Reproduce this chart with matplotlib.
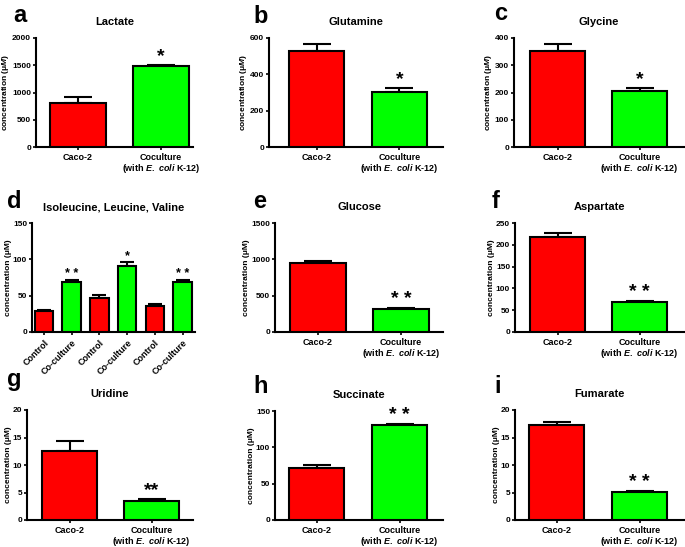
import matplotlib
matplotlib.use("Agg")
import matplotlib.pyplot as plt

plt.rcParams["font.family"] = ["Liberation Sans", "DejaVu Sans"]
plt.rcParams["font.weight"] = "bold"
plt.rcParams["axes.labelweight"] = "bold"
plt.rcParams["mathtext.fontset"] = "custom"
plt.rcParams["mathtext.rm"] = "Liberation Sans:bold"
plt.rcParams["mathtext.bf"] = "Liberation Sans:bold"
plt.rcParams["mathtext.it"] = "Liberation Sans:bold:italic"

RED = "#ff0000"
GREEN = "#00ff00"

# data (mean, upper error)
pair_labels = ["Caco-2", "Coculture\n(with $\\mathit{E.\\ coli}$ K-12)"]
bcaa_labels = ["Control", "Co-culture", "Control", "Co-culture", "Control", "Co-culture"]

lactate = [807, 1480]
lactate_err = [110, 25]
glutamine = [526, 305]
glutamine_err = [41, 18]
glycine = [352, 205]
glycine_err = [25, 12]
bcaa = [28.3, 69.3, 46.5, 90.7, 36.0, 68.4]
bcaa_err = [2.2, 2.7, 4.5, 5.0, 2.3, 3.2]
glucose = [951, 315]
glucose_err = [27, 19]
aspartate = [219, 68]
aspartate_err = [8, 2]
uridine = [12.5, 3.45]
uridine_err = [1.9, 0.31]
succinate = [72, 130.7]
succinate_err = [3.7, 1.0]
fumarate = [17.3, 5.15]
fumarate_err = [0.5, 0.05]

pair_stars_1 = ["", "*"]
pair_stars_2 = ["", "* *"]
pair_stars_3 = ["", "**"]
bcaa_stars = ["", "* *", "", "*", "", "* *"]

ylabel_it = "concentration (\u03bc$\\mathit{M}$)"
ylabel_rm = "concentration (\u03bcM)"

# letter, title, values, errors, stars, ymax, ystep, ylabel
panels = [
    ("a", "Lactate", lactate, lactate_err, pair_stars_1, 2000, 500, ylabel_it),
    ("b", "Glutamine", glutamine, glutamine_err, pair_stars_1, 600, 200, ylabel_it),
    ("c", "Glycine", glycine, glycine_err, pair_stars_1, 400, 100, ylabel_it),
    ("d", "Isoleucine, Leucine, Valine", bcaa, bcaa_err, bcaa_stars, 150, 50, ylabel_rm),
    ("e", "Glucose", glucose, glucose_err, pair_stars_2, 1500, 500, ylabel_rm),
    ("f", "Aspartate", aspartate, aspartate_err, pair_stars_2, 250, 50, ylabel_rm),
    ("g", "Uridine", uridine, uridine_err, pair_stars_3, 20, 5, ylabel_rm),
    ("h", "Succinate", succinate, succinate_err, pair_stars_2, 150, 50, ylabel_rm),
    ("i", "Fumarate", fumarate, fumarate_err, pair_stars_2, 20, 5, ylabel_rm),
]

# pixel layout: axis left, right, top, bottom, first bar centre, px per bar
layout = [
    (36, 193, 38, 147, 78, 83),
    (269, 443, 38, 147, 316.5, 83),
    (514, 684, 38, 147, 557.5, 82),
    (32, 195, 223, 332, 44, 27.7),
    (275, 443, 223, 332, 318, 83),
    (515, 684, 223, 332, 557.5, 82),
    (27, 193, 410, 520, 69.5, 82),
    (275, 443, 411, 520, 316.5, 83),
    (515, 684, 410, 520, 556.5, 83),
]
letter_pos = [(13, 22), (253, 23), (494, 20), (7, 208), (253, 208), (492, 208), (7, 386), (253, 393), (494, 393)]

W, H = 685, 547
fig = plt.figure(figsize=(W / 100, H / 100), dpi=100)

for (letter, title, vals, errs, stars, ymax, ystep, ylab), (l, r, t, b, c0, unit), (lx, ly) in zip(panels, layout, letter_pos):
    ax = fig.add_axes([l / W, 1 - b / H, (r - l) / W, (b - t) / H])
    n = len(vals)
    x = list(range(n))
    colors = [RED, GREEN] * (n // 2)
    small = n > 2
    ax.bar(x, vals, width=0.67, color=colors, edgecolor="black", linewidth=1.5, zorder=3)
    ax.errorbar(x, vals, yerr=[[0] * n, errs], fmt="none", ecolor="black",
                elinewidth=1.5, capsize=5 if small else 10, capthick=1.5, zorder=2)
    for xi, v, e, s in zip(x, vals, errs, stars):
        if s:
            ax.annotate(s, xy=(xi, v + e), xytext=(0, 0), textcoords="offset points",
                        ha="center", va="bottom", fontsize=9 if small else 14)
    ax.set_xlim((l - c0) / unit, (r - c0) / unit)
    ax.set_ylim(0, ymax)
    ax.set_yticks(range(0, ymax + 1, ystep))
    ax.set_xticks(x)
    if small:
        ax.set_xticklabels(bcaa_labels, rotation=45, ha="right", rotation_mode="anchor")
    else:
        ax.set_xticklabels(pair_labels, linespacing=1.0)
    ax.tick_params(axis="x", labelsize=6.5, width=1.2, length=2.5, pad=2)
    ax.tick_params(axis="y", labelsize=6, width=1.2, length=2.5, pad=1)
    ax.set_ylabel(ylab, fontsize=6, labelpad=0.5)
    for side in ("top", "right"):
        ax.spines[side].set_visible(False)
    for side in ("left", "bottom"):
        ax.spines[side].set_linewidth(1.5)
    ax.text(0.5, 1 + 16 / (b - t), title, transform=ax.transAxes, ha="center", va="center", fontsize=8)
    fig.text(lx / W, 1 - ly / H, letter, fontsize=17, fontweight="bold", ha="left", va="baseline")

fig.savefig("out.png", dpi=100)
